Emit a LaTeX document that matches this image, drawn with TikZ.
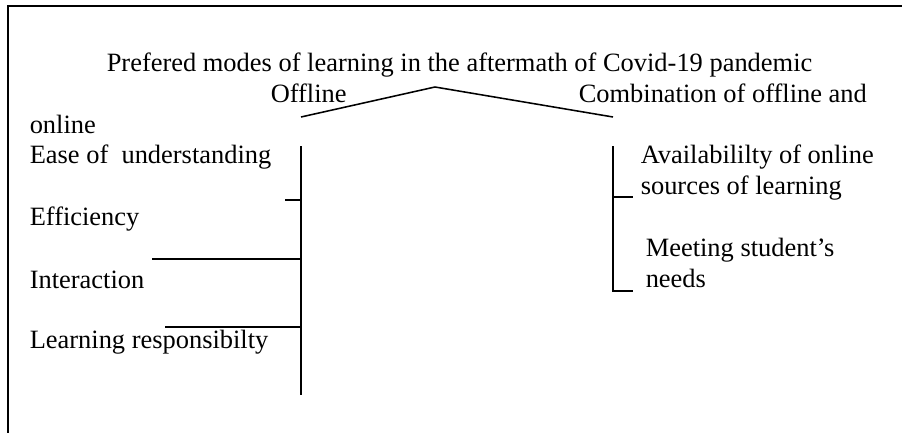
\documentclass[tikz,border=0pt]{standalone}
\usepackage{fontspec}
\setmainfont{Liberation Serif}
\usetikzlibrary{positioning}

\begin{document}
\begin{tikzpicture}[x=0.025cm,y=-0.025cm,line width=1.1pt,
		every node/.style={inner sep=0pt,anchor=base west,font=\fontsize{18.8}{21.4}\selectfont}]
		\tikzstyle{FrameStyle}=[line width=1.6pt]
		\tikzstyle{TwoLine}=[align=left]

		\useasboundingbox (0,0) rectangle (902,433);
		\draw[FrameStyle] (8,433) -- (8,6) -- (902,6);

		\node at (106,72) (title) {Prefered modes of learning in the aftermath of Covid-19 pandemic};
		\node at (270,103) (offline) {Offline};
		\node at (578,103) (comb) {Combination of offline and};
		\node at (29,133) (combRest) {online};

		\node at (29,163) (ease) {Ease of\ \ understanding};
		\node at (29,225) (effic) {Efficiency};
		\node at (29,288) (inter) {Interaction};
		\node at (29,348) (resp) {Learning responsibilty};

		% two-line nodes sit on their last line
		\node at (640,194) [TwoLine] (avail) {Availabililty of online\\sources of learning};
		\node at (645,287) [TwoLine] (needs) {Meeting student's\\needs};

		% branch points
		\coordinate (apex) at (435,87);
		\coordinate (offEnd) at (301,117);
		\coordinate (combEnd) at (613,117);
		\coordinate (offTop) at (301,146);
		\coordinate (offBot) at (301,395);
		\coordinate (combTop) at (613,146);
		\coordinate (combBot) at (613,291);

		\draw (offEnd) -- (apex) -- (combEnd);
		\draw (offTop) -- (offBot);
		\draw (combTop) -- (combBot) -- ++(20,0);

		\draw (offTop |- 0,200) -- ++(-16,0);
		\draw (offTop |- 0,259) -- (152,259);
		\draw (offTop |- 0,327) -- (165,327);
		\draw (combTop |- 0,197) -- ++(20,0);
	\end{tikzpicture}
\end{document}
